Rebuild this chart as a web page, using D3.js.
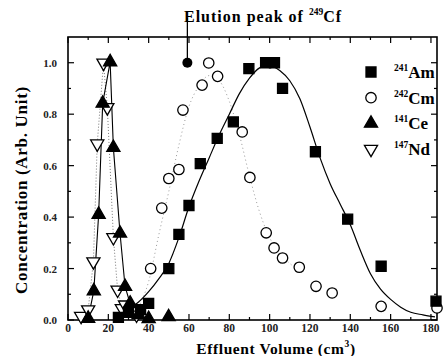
<!DOCTYPE html>
<html><head><meta charset="utf-8">
<script src="https://cdn.jsdelivr.net/npm/d3@7/dist/d3.min.js"></script>
<style>body{margin:0;background:#fff}svg{display:block}</style>
</head><body>
<script>
// ---- data ----
const amData = [[25,0.01],[30,0.03],[36,0.04],[40,0.065],[50,0.2],[55,0.333],[60,0.445],[65.6,0.608],[74,0.706],[82,0.77],[89.7,0.977],[98,1.0],[102.4,1.0],[106.4,0.9],[122.7,0.654],[138.7,0.392],[155.3,0.209],[182.5,0.073]];
const amFit = [[30,0.045],[35,0.07],[40,0.11],[45,0.16],[50,0.22],[55,0.32],[60,0.44],[65,0.54],[70,0.63],[75,0.72],[80,0.8],[85,0.88],[90,0.94],[95,0.98],[99,0.99],[105,0.97],[110,0.93],[115,0.86],[120,0.75],[125,0.63],[130,0.53],[135,0.45],[140,0.37],[145,0.27],[150,0.18],[155,0.12],[160,0.08],[165,0.05],[170,0.03],[176,0.02],[182,0.012]];
const cmData = [[32,0.03],[41,0.2],[46.5,0.435],[50,0.55],[55,0.585],[57,0.816],[66.5,0.913],[69.8,0.999],[74.2,0.947],[86.4,0.731],[90.2,0.554],[98.3,0.339],[102.2,0.28],[106.4,0.241],[114.7,0.205],[123,0.131],[131,0.105],[155.3,0.053],[183,0.047]];
const cmFit = [[35,0.05],[40,0.15],[45,0.33],[50,0.5],[55,0.68],[60,0.83],[65,0.91],[70,0.95],[75,0.93],[80,0.85],[85,0.72],[90,0.56],[95,0.42],[100,0.32],[105,0.26],[110,0.22],[115,0.19]];
const ceData = [[10,0.006],[12.8,0.113],[15.2,0.41],[17.2,0.842],[20.9,1.003],[22.5,0.67],[25.8,0.337],[28.3,0.13],[30.8,0.065],[35,0.02],[40,0.005],[49.9,0.012]];
const ndData = [[6.5,0.015],[10,0.04],[12.6,0.227],[14.5,0.685],[17.6,0.999],[19.5,0.826],[22.5,0.321],[24.6,0.117],[26.7,0.045],[28.3,0.059],[34,0.02]];
const cfPeak = [[59.2,1.0]];
const xTicks = [0,20,40,60,80,100,120,140,160,180];
const yTicks = [0.0,0.2,0.4,0.6,0.8,1.0];
const legendItems = [{iso:"241",el:"Am",sym:"square"},{iso:"242",el:"Cm",sym:"circle"},{iso:"141",el:"Ce",sym:"tri"},{iso:"147",el:"Nd",sym:"dtri"}];

// ---- chart ----
const W=444,H=356;
const svg=d3.select("body").append("svg").attr("width",W).attr("height",H);
const x=d3.scaleLinear().domain([0,183]).range([68,437]);
const y=d3.scaleLinear().domain([0,1.1]).range([320,37]);
const serif='"Liberation Serif","Times New Roman",serif';

// frame
svg.append("rect").attr("x",68).attr("y",37).attr("width",437-68).attr("height",320-37)
  .attr("fill","none").attr("stroke","#000").attr("stroke-width",1.6);

// ticks (inward)
const xMinor=d3.range(0,184,10);
const yMinor=d3.range(0,1.1,0.1);
xMinor.forEach(v=>{
  const len = (v%20===0)?6:3;
  svg.append("line").attr("x1",x(v)).attr("x2",x(v)).attr("y1",320).attr("y2",320-len).attr("stroke","#000").attr("stroke-width",1.2);
  svg.append("line").attr("x1",x(v)).attr("x2",x(v)).attr("y1",37).attr("y2",37+len).attr("stroke","#000").attr("stroke-width",1.2);
});
yMinor.forEach((v,i)=>{
  const len = (i%2===0)?6:3;
  svg.append("line").attr("x1",68).attr("x2",68+len).attr("y1",y(v)).attr("y2",y(v)).attr("stroke","#000").attr("stroke-width",1.2);
  svg.append("line").attr("x1",437).attr("x2",437-len).attr("y1",y(v)).attr("y2",y(v)).attr("stroke","#000").attr("stroke-width",1.2);
});
svg.selectAll(".xt").data(xTicks).enter().append("text")
  .attr("x",d=>x(d)).attr("y",332).attr("text-anchor","middle")
  .attr("font-family",serif).attr("font-weight","bold").attr("font-size",11.5).attr("fill","#222").text(d=>d);
svg.selectAll(".yt").data(yTicks).enter().append("text")
  .attr("x",57).attr("y",d=>y(d)+4).attr("text-anchor","end")
  .attr("font-family",serif).attr("font-weight","bold").attr("font-size",11).attr("fill","#222").text(d=>d.toFixed(1));

// axis titles
const xt=svg.append("text").attr("x",276).attr("y",354).attr("text-anchor","middle")
  .attr("font-family",serif).attr("font-weight","bold").attr("font-size",15.5).attr("letter-spacing",0.6);
xt.append("tspan").text("Effluent Volume (cm");
xt.append("tspan").attr("dy",-7).attr("font-size",9.5).text("3");
xt.append("tspan").attr("dy",7).text(")");
svg.append("text").attr("transform","translate(27,190) rotate(-90)").attr("text-anchor","middle")
  .attr("font-family",serif).attr("font-weight","bold").attr("font-size",17).attr("letter-spacing",0.7).text("Concentration (Arb. Unit)");

// lines
const line=d3.line().x(d=>x(d[0])).y(d=>y(d[1])).curve(d3.curveMonotoneX);
svg.append("path").attr("d",line(cmFit)).attr("fill","none").attr("stroke","#999").attr("stroke-width",1).attr("stroke-dasharray","1,3");
svg.append("path").attr("d",line(amFit)).attr("fill","none").attr("stroke","#000").attr("stroke-width",1.2);
const lin=d3.line().x(d=>x(d[0])).y(d=>y(d[1]));
svg.append("path").attr("d",lin(ndData.slice(0,9))).attr("fill","none").attr("stroke","#777").attr("stroke-width",1).attr("stroke-dasharray","1,2");
svg.append("path").attr("d",lin(ceData.slice(0,9))).attr("fill","none").attr("stroke","#000").attr("stroke-width",1.1);

// markers
function sym(type){
  if(type==="square") return d3.symbol().type(d3.symbolSquare).size(100)();
  if(type==="circle") return d3.symbol().type(d3.symbolCircle).size(85)();
  return d3.symbol().type(d3.symbolTriangle).size(75)();
}
function draw(data,type){
  const filled = (type==="square"||type==="tri");
  svg.append("g").selectAll("path").data(data).enter().append("path")
    .attr("d",sym(type))
    .attr("transform",d=>`translate(${x(d[0])},${y(d[1])})`+(type==="dtri"?" rotate(180)":""))
    .attr("fill",filled?"#000":"#fff").attr("stroke","#000").attr("stroke-width",1.3);
}
draw(cmData,"circle");
draw(ndData,"dtri");
draw(ceData,"tri");
draw(amData,"square");

// Cf peak annotation
svg.append("line").attr("x1",x(cfPeak[0][0])).attr("x2",x(cfPeak[0][0])).attr("y1",18).attr("y2",y(cfPeak[0][1]))
  .attr("stroke","#000").attr("stroke-width",1.3);
svg.append("circle").attr("cx",x(cfPeak[0][0])).attr("cy",y(cfPeak[0][1])).attr("r",5).attr("fill","#000");
const ct=svg.append("text").attr("x",184).attr("y",22).attr("font-family",serif).attr("font-weight","bold").attr("font-size",16).attr("letter-spacing",1);
ct.append("tspan").text("Elution peak of ");
ct.append("tspan").attr("dy",-7).attr("font-size",9.5).attr("letter-spacing",0).text("249");
ct.append("tspan").attr("dy",7).text("Cf");

// legend
legendItems.forEach((it,i)=>{
  const cy=72+i*25.7;
  const t = it.sym;
  svg.append("path").attr("d",sym(t==="dtri"?"tri":t))
    .attr("transform",`translate(371,${cy})`+(t==="dtri"?" rotate(180)":""))
    .attr("fill",(t==="square"||t==="tri")?"#000":"#fff").attr("stroke","#000").attr("stroke-width",1.3);
  const tx=svg.append("text").attr("x",394).attr("y",cy+6).attr("font-family",serif).attr("font-weight","bold").attr("font-size",17);
  tx.append("tspan").attr("dy",-7).attr("font-size",9.5).text(it.iso);
  tx.append("tspan").attr("dy",7).text(it.el);
});
</script>
</body></html>
